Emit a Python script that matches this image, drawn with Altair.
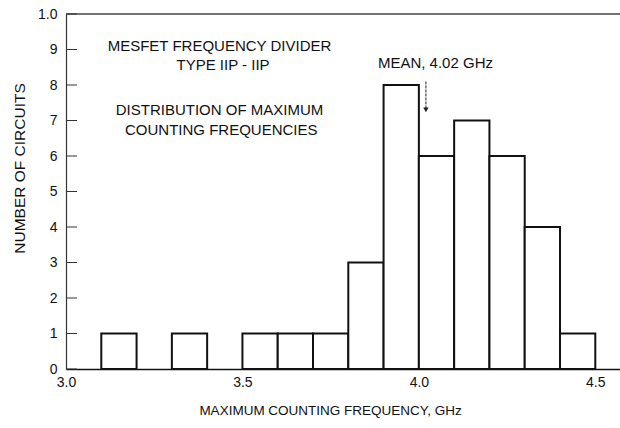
import altair as alt
import pandas as pd

# Histogram bins (GHz) and counts
bin_start = [3.1, 3.3, 3.5, 3.6, 3.7, 3.8, 3.9, 4.0, 4.1, 4.2, 4.3, 4.4]
bin_end   = [3.2, 3.4, 3.6, 3.7, 3.8, 3.9, 4.0, 4.1, 4.2, 4.3, 4.4, 4.5]
counts    = [1, 1, 1, 1, 1, 3, 8, 6, 7, 6, 4, 1]

y_ticks = [0, 1, 2, 3, 4, 5, 6, 7, 8, 9, 10]
x_ticks = [3.0, 3.5, 4.0, 4.5]

note_text = ["MESFET FREQUENCY DIVIDER", "TYPE IIP - IIP",
             "DISTRIBUTION OF MAXIMUM", "COUNTING FREQUENCIES"]
note_x = [3.435, 3.445, 3.435, 3.44]
note_y = [9.1, 8.55, 7.3, 6.72]

mean_label = "MEAN, 4.02 GHz"
mean_value = 4.02
mean_label_x = 4.047
mean_label_y = 8.62
arrow_top = 8.1
arrow_bottom = 7.3

X_DOMAIN = [3.0, 4.57]
Y_DOMAIN = [0, 10]
FONT = "Liberation Sans"

bars_df = pd.DataFrame({"x0": bin_start, "x1": bin_end, "n": counts})
ticks_df = pd.DataFrame({"v": y_ticks})
notes_df = pd.DataFrame({"t": note_text, "x": note_x, "y": note_y})
mean_df = pd.DataFrame({"t": [mean_label], "x": [mean_label_x], "y": [mean_label_y]})
arrow_df = pd.DataFrame({"x": [mean_value], "y0": [arrow_top], "y1": [arrow_bottom]})
top_df = pd.DataFrame({"x0": [X_DOMAIN[0]], "x1": [X_DOMAIN[1]], "y": [Y_DOMAIN[1]]})

xs = alt.Scale(domain=X_DOMAIN, nice=False, zero=False)
ys = alt.Scale(domain=Y_DOMAIN, nice=False)

x_axis = alt.Axis(values=x_ticks, format=".1f", ticks=False, grid=False,
                  domainColor="#111", domainWidth=1.6, labelFontSize=14,
                  labelColor="#111", labelPadding=6, labelFont=FONT,
                  labelOverlap=False, labelFlush=False,
                  title="MAXIMUM COUNTING FREQUENCY, GHz", titleFont=FONT,
                  titleFontSize=13.5, titleFontWeight="normal", titleColor="#111",
                  titleX=264, titleY=41, titleAlign="center", titleBaseline="middle")
y_axis = alt.Axis(values=y_ticks, ticks=False, grid=False, domainColor="#333",
                  domainWidth=1.2, labelFontSize=14, labelColor="#111",
                  labelPadding=9, labelFont=FONT, labelOverlap=False,
                  labelFlush=False, labelBound=False,
                  labelExpr="datum.value == 10 ? '1.0' : datum.label",
                  title="NUMBER OF CIRCUITS", titleFont=FONT, titleFontSize=15.5,
                  titleFontWeight="normal", titleColor="#111",
                  titleX=-47, titleY=154, titleAngle=-90,
                  titleAlign="center", titleBaseline="middle")

bars = alt.Chart(bars_df).mark_rect(fill="white", stroke="#111", strokeWidth=2).encode(
    x=alt.X("x0:Q", scale=xs, axis=x_axis),
    x2="x1:Q",
    y=alt.Y("n:Q", scale=ys, axis=y_axis),
    y2=alt.datum(0),
)

yticks = alt.Chart(ticks_df).mark_rule(color="#333", strokeWidth=1).encode(
    x=alt.value(0), x2=alt.value(11),
    y=alt.Y("v:Q", scale=ys, axis=y_axis),
)

top_line = alt.Chart(top_df).mark_rule(color="#444", strokeWidth=1.5).encode(
    x=alt.X("x0:Q", scale=xs, axis=x_axis), x2="x1:Q",
    y=alt.Y("y:Q", scale=ys, axis=y_axis),
)

notes = alt.Chart(notes_df).mark_text(font=FONT, fontSize=15, color="#111",
                                      align="center", baseline="middle").encode(
    x=alt.X("x:Q", scale=xs, axis=x_axis), y=alt.Y("y:Q", scale=ys, axis=y_axis),
    text="t:N",
)

mean_text = alt.Chart(mean_df).mark_text(font=FONT, fontSize=15, color="#111",
                                         align="center", baseline="middle").encode(
    x=alt.X("x:Q", scale=xs, axis=x_axis), y=alt.Y("y:Q", scale=ys, axis=y_axis),
    text="t:N",
)

arrow_line = alt.Chart(arrow_df).mark_rule(color="#222", strokeWidth=1, strokeDash=[3, 1]).encode(
    x=alt.X("x:Q", scale=xs, axis=x_axis), y=alt.Y("y0:Q", scale=ys, axis=y_axis),
    y2="y1:Q",
)
arrow_head = alt.Chart(arrow_df).mark_point(shape="triangle-down", filled=True,
                                            color="#222", size=30, opacity=1).encode(
    x=alt.X("x:Q", scale=xs, axis=x_axis), y=alt.Y("y1:Q", scale=ys, axis=y_axis),
)

chart = alt.layer(bars, top_line, yticks, notes, mean_text, arrow_line, arrow_head).properties(
    width=554, height=355,
    padding={"left": 66, "top": 14, "right": 0, "bottom": 59},
    autosize=alt.AutoSizeParams(type="none"),
    background="white",
).configure_view(stroke=None)

chart.save("out.html", embed_options={"renderer": "svg", "actions": False})
